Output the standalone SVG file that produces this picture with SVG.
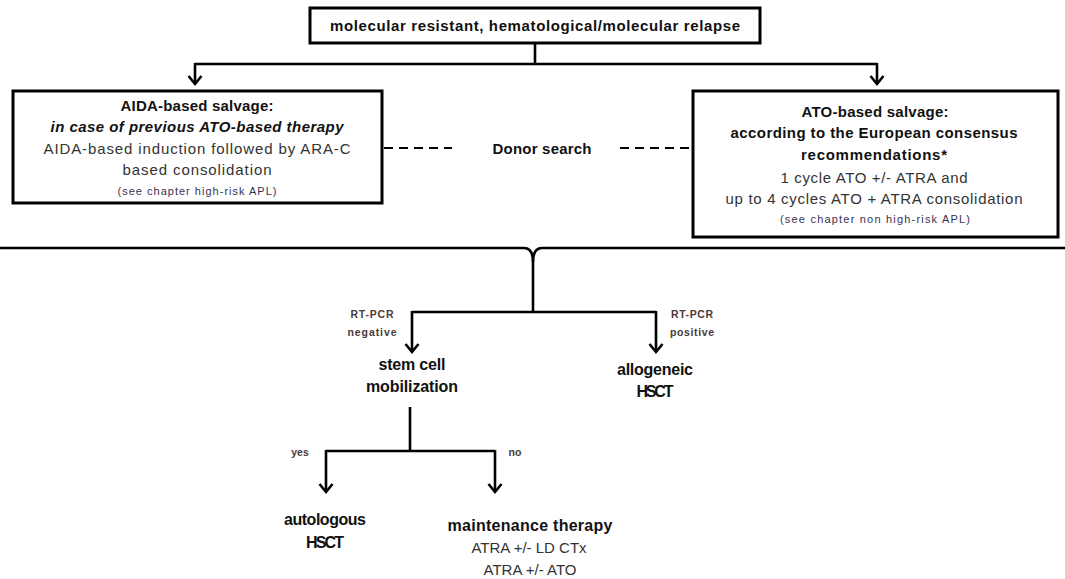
<svg xmlns="http://www.w3.org/2000/svg" width="1065" height="579" viewBox="0 0 1065 579">
  <defs>
    <marker id="vee" markerUnits="userSpaceOnUse" markerWidth="16" markerHeight="16" viewBox="-10 -8 12 16" refX="0" refY="0" orient="auto">
      <polyline points="-8,-6.5 0,0 -8,6.5" fill="none" stroke="#000" stroke-width="2.6" stroke-linejoin="miter"/>
    </marker>
    <style>
      .box { fill: #fff; stroke: #000; stroke-width: 3; }
      .ln { fill: none; stroke: #000; stroke-width: 2.6; }
      .arr { fill: none; stroke: #000; stroke-width: 2.6; marker-end: url(#vee); }
      .dash { fill: none; stroke: #000; stroke-width: 2; stroke-dasharray: 9 6; }
      text { font-family: "Liberation Sans", Arial, sans-serif; text-anchor: middle; }
      .b { font-weight: bold; font-size: 15px; fill: #111; }
      .bi { font-weight: bold; font-style: italic; font-size: 15px; fill: #111; }
      .r { font-size: 15px; fill: #333; }
      .s { font-size: 11px; fill: #3a3050; }
      .lbl { font-weight: bold; font-size: 10.5px; fill: #4a3a3a; }
      .big { font-weight: bold; font-size: 16px; fill: #111; }
    </style>
  </defs>

  <g id="connectors">
    <!-- top split -->
    <path class="ln" d="M535 43 V64 M195 64 H877"/>
    <path class="arr" d="M195 63 V84"/>
    <path class="arr" d="M877 63 V84"/>
    <!-- donor search dashes -->
    <path class="dash" d="M384 148 H452"/>
    <path class="dash" d="M620 148 H692"/>
    <!-- merge brace -->
    <path class="ln" d="M0 248 H524 C530 248 533 252 533 262 V312"/>
    <path class="ln" d="M1065 248 H542 C536 248 533 252 533 262"/>
    <!-- RT-PCR split -->
    <path class="ln" d="M412 312 H656"/>
    <path class="arr" d="M412 311 V352"/>
    <path class="arr" d="M656 311 V352"/>
    <!-- mobilization split -->
    <path class="ln" d="M410 407 V451 M326 451 H495"/>
    <path class="arr" d="M326 450 V492"/>
    <path class="arr" d="M495 450 V492"/>
  </g>

  <g id="relapse">
    <rect class="box" x="310" y="8" width="450" height="35"/>
    <text class="b" x="535" y="31" textLength="410">molecular  resistant, hematological/molecular  relapse</text>
  </g>

  <g id="aida">
    <rect class="box" x="13" y="91" width="369" height="112"/>
    <text class="b" x="197" y="111" textLength="153">AIDA-based salvage:</text>
    <text class="bi" x="197" y="132" textLength="293">in case of previous ATO-based therapy</text>
    <text class="r" x="197" y="154" textLength="307">AIDA-based induction followed by ARA-C</text>
    <text class="r" x="197" y="175" textLength="149">based consolidation</text>
    <text class="s" x="197" y="195" textLength="159">(see chapter high-risk APL)</text>
  </g>

  <g id="donor">
    <text class="b" x="542" y="154" textLength="99">Donor search</text>
  </g>

  <g id="ato">
    <rect class="box" x="693" y="91" width="365" height="146"/>
    <text class="b" x="875" y="117" textLength="147">ATO-based salvage:</text>
    <text class="b" x="874" y="138" textLength="287">according to the European consensus</text>
    <text class="b" x="874" y="160" textLength="146">recommendations*</text>
    <text class="r" x="874" y="183" textLength="187">1 cycle ATO +/- ATRA and</text>
    <text class="r" x="874" y="204" textLength="297">up to 4 cycles ATO + ATRA consolidation</text>
    <text class="s" x="875" y="223" textLength="190">(see chapter non high-risk APL)</text>
  </g>

  <g id="rt-labels">
    <text class="lbl" x="372" y="318" textLength="43">RT-PCR</text>
    <text class="lbl" x="372" y="336" textLength="49">negative</text>
    <text class="lbl" x="692" y="318" textLength="42">RT-PCR</text>
    <text class="lbl" x="692" y="336" textLength="44">positive</text>
  </g>

  <g id="mobilization">
    <text class="big" x="412" y="370" textLength="67">stem cell</text>
    <text class="big" x="412" y="392" textLength="92">mobilization</text>
  </g>

  <g id="allogeneic">
    <text class="big" x="655" y="375" textLength="76">allogeneic</text>
    <text class="big" x="655" y="397" textLength="37">HSCT</text>
  </g>

  <g id="yes-no">
    <text class="lbl" x="300" y="456" fill="#222">yes</text>
    <text class="lbl" x="515" y="456">no</text>
  </g>

  <g id="autologous">
    <text class="big" x="325" y="525" textLength="82">autologous</text>
    <text class="big" x="325" y="548" textLength="38">HSCT</text>
  </g>

  <g id="maintenance">
    <text class="big" x="530" y="531" textLength="165">maintenance therapy</text>
    <text class="r" x="529" y="553">ATRA +/- LD CTx</text>
    <text class="r" x="530" y="575">ATRA +/- ATO</text>
  </g>
</svg>
